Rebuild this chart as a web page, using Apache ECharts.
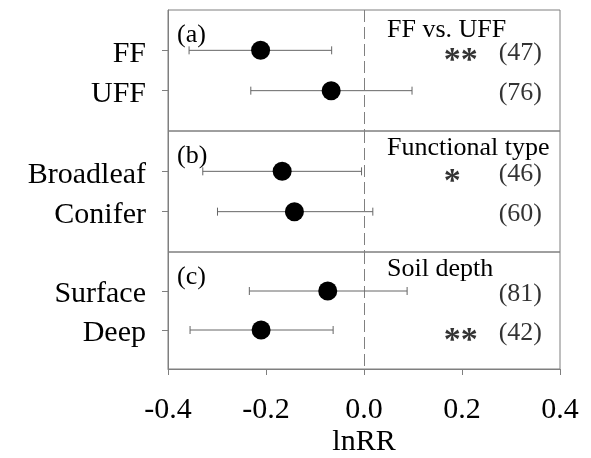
<!DOCTYPE html>
<html>
<head>
<meta charset="utf-8">
<script src="https://cdn.jsdelivr.net/npm/echarts@6/dist/echarts.min.js"></script>
<style>
html, body { margin: 0; padding: 0; background: #fff; }
#main { width: 591px; height: 458px; }
</style>
</head>
<body>
<div id="main"></div>
<script>
// panel categories, top to bottom
var panelCats = [['FF', 'UFF'], ['Broadleaf', 'Conifer'], ['Surface', 'Deep']];
var panelLetters = ['(a)', '(b)', '(c)'];
var panelTitles = ['FF vs. UFF', 'Functional type', 'Soil depth'];
// lnRR and 95% CI, same order as panelCats
var means = [-0.211, -0.067, -0.167, -0.142, -0.074, -0.210];
var lower = [-0.357, -0.231, -0.329, -0.299, -0.234, -0.355];
var upper = [-0.066, 0.098, -0.005, 0.018, 0.088, -0.063];
var counts = [47, 76, 46, 60, 81, 42];
var sig = ['**', '', '*', '', '', '**'];
var xTicks = [-0.4, -0.2, 0.0, 0.2, 0.4];

var FONT = 'Liberation Serif';
var GRAY = '#7f7f7f';
var gridTop = [10, 131, 252];
var panelH = 121;

var myChart = echarts.init(document.getElementById('main'));

var grids = [], xAxes = [], yAxes = [], series = [], graphics = [];

panelCats.forEach(function (cats, p) {
    var last = p === panelCats.length - 1;
    grids.push({
        left: 168, right: 31, top: gridTop[p], height: panelH,
        show: true, borderColor: GRAY, borderWidth: 1
    });
    xAxes.push({
        gridIndex: p, type: 'value',
        min: xTicks[0], max: xTicks[xTicks.length - 1], interval: 0.2,
        axisLine: {show: last, onZero: false, lineStyle: {color: GRAY}},
        axisTick: {show: last, inside: false, length: 6, lineStyle: {color: GRAY}},
        axisLabel: {
            show: last, margin: 26, color: '#000', fontSize: 30, fontFamily: FONT,
            formatter: function (v) { return v.toFixed(1); }
        },
        splitLine: {show: false},
        name: last ? 'lnRR' : '', nameLocation: 'middle', nameGap: 58,
        nameTextStyle: {color: '#000', fontSize: 30, fontFamily: FONT}
    });
    var yData = [''].concat(cats).concat(['']);
    yAxes.push({
        gridIndex: p, type: 'category', data: yData, inverse: true, boundaryGap: false,
        axisLine: {show: true, onZero: false, lineStyle: {color: GRAY}},
        axisTick: {
            show: true, length: 6, lineStyle: {color: GRAY},
            interval: function (i, v) { return v !== ''; }
        },
        axisLabel: {
            margin: 22, color: '#000', fontSize: 30, fontFamily: FONT,
            formatter: function (v) { return '{t|' + v + '}'; },
            rich: {t: {fontSize: 30, fontFamily: FONT, color: '#000', padding: [7, 0, 0, 0]}},
            interval: function (i, v) { return v !== ''; }
        },
        splitLine: {show: false}
    });

    var ci = [], pts = [], cnt = [], stars = [];
    cats.forEach(function (c, k) {
        var i = p * 2 + k;
        ci.push([lower[i], upper[i], c]);
        pts.push([means[i], c]);
        cnt.push([0.319, c, '(' + counts[i] + ')']);
        stars.push([0.163, c, sig[i]]);
    });

    // dashed zero line
    series.push({
        type: 'custom', xAxisIndex: p, yAxisIndex: p, z: 1, silent: true,
        encode: {x: 0},
        data: [[0]],
        renderItem: function (params, api) {
            var cs = params.coordSys;
            var x = Math.round(api.coord([api.value(0), 1])[0]) + 0.5;
            return {
                type: 'line',
                shape: {x1: x, y1: cs.y, x2: x, y2: cs.y + cs.height},
                style: {stroke: '#808080', lineWidth: 1, lineDash: [12, 5]}
            };
        }
    });
    // error bars
    series.push({
        type: 'custom', xAxisIndex: p, yAxisIndex: p, z: 2,
        encode: {x: [0, 1], y: 2},
        data: ci,
        renderItem: function (params, api) {
            var yi = api.value(2);
            var a = api.coord([api.value(0), yi]);
            var b = api.coord([api.value(1), yi]);
            var st = {stroke: '#666', lineWidth: 1};
            return {
                type: 'group',
                children: [
                    {type: 'line', shape: {x1: a[0], y1: a[1], x2: b[0], y2: b[1]}, style: st},
                    {type: 'line', shape: {x1: a[0], y1: a[1] - 4, x2: a[0], y2: a[1] + 4}, style: st},
                    {type: 'line', shape: {x1: b[0], y1: b[1] - 4, x2: b[0], y2: b[1] + 4}, style: st}
                ]
            };
        }
    });
    // means
    series.push({
        type: 'scatter', xAxisIndex: p, yAxisIndex: p, z: 5,
        symbol: 'circle', symbolSize: 19,
        itemStyle: {color: '#000', opacity: 1},
        data: pts
    });
    // sample sizes
    series.push({
        type: 'scatter', xAxisIndex: p, yAxisIndex: p, symbolSize: 0, silent: true,
        data: cnt,
        label: {
            show: true, position: 'inside', offset: [0, 3],
            formatter: function (d) { return d.value[2]; },
            color: '#000', fontSize: 26, fontFamily: FONT
        }
    });
    // significance stars
    series.push({
        type: 'scatter', xAxisIndex: p, yAxisIndex: p, symbolSize: 0, silent: true,
        data: stars,
        label: {
            show: true, position: 'inside', align: 'left', offset: [0, 11],
            formatter: function (d) { return d.value[2]; },
            color: '#000', fontSize: 34, fontWeight: 'bold', fontFamily: FONT
        }
    });

    graphics.push({
        type: 'text', left: 177, top: gridTop[p] + 25 - 13,
        style: {text: panelLetters[p], fontSize: 26, fontFamily: FONT, fill: '#000'}
    });
    graphics.push({
        type: 'text', left: 387, top: gridTop[p] + (p === 0 ? 19 : 16) - 12,
        style: {text: panelTitles[p], fontSize: 26, fontFamily: FONT, fill: '#000'}
    });
});

var option = {
    animation: false,
    backgroundColor: '#fff',
    grid: grids,
    xAxis: xAxes,
    yAxis: yAxes,
    series: series,
    graphic: graphics
};
myChart.setOption(option);
</script>
</body>
</html>
